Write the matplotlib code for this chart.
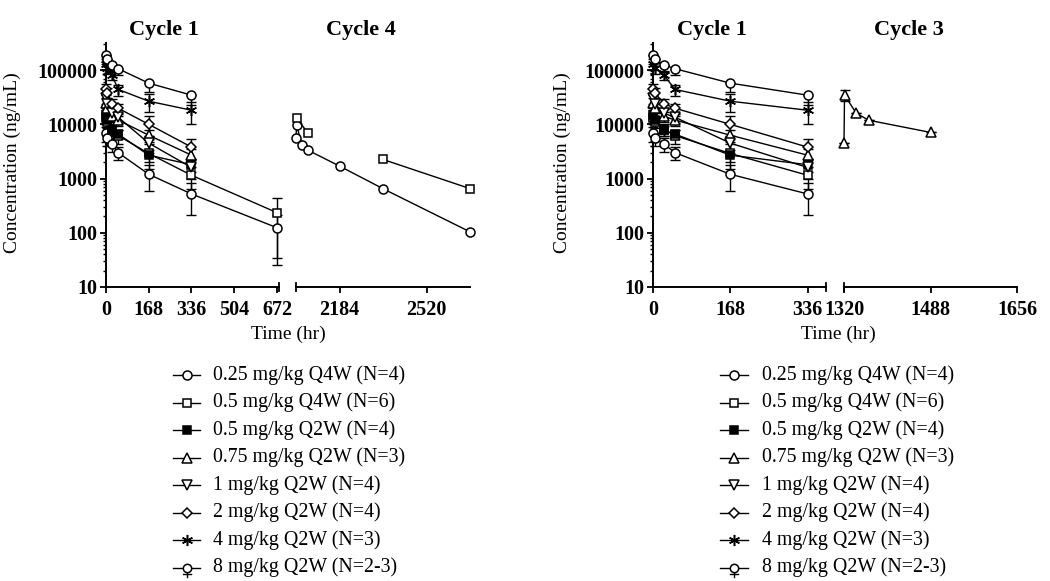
import numpy as np
import matplotlib
matplotlib.use('Agg')
import matplotlib.pyplot as plt
from matplotlib.lines import Line2D
from matplotlib.ticker import LogLocator, FixedLocator, FixedFormatter, NullFormatter

plt.rcParams['font.family'] = ['Liberation Serif', 'DejaVu Serif']

# ---------------- data ----------------
series_labels = ["0.25 mg/kg Q4W (N=4)", "0.5 mg/kg Q4W (N=6)", "0.5 mg/kg Q2W (N=4)",
                 "0.75 mg/kg Q2W (N=3)", "1 mg/kg Q2W (N=4)", "2 mg/kg Q2W (N=4)",
                 "4 mg/kg Q2W (N=3)", "8 mg/kg Q2W (N=2-3)"]

times_c1 = [0.5, 4, 24, 48, 168, 336, 672]

conc_025_q4w = [6800, 5500, 4300, 3000, 1200, 520, 124]
sd_025_q4w = [2000, 1500, 1200, 800, 600, 310, 90]
conc_05_q4w = [13000, 11000, 8000, 6200, 2900, 1150, 235]
sd_05_q4w = [3000, 2500, 2000, 1800, 1400, 500, 210]
conc_05_q2w = [15000, 12000, 7700, 6600, 2700, 1800]
sd_05_q2w = [3000, 2000, 1500, 1200, 700, 500]
conc_075_q2w = [25000, 20000, 14000, 12000, 6300, 2700]
sd_075_q2w = [5000, 4000, 3000, 2500, 1500, 800]
conc_1_q2w = [30000, 24000, 16000, 13500, 4500, 1600]
sd_1_q2w = [6000, 5000, 3000, 3000, 1500, 600]
conc_2_q2w = [45000, 38000, 24000, 19800, 10000, 3800]
sd_2_q2w = [10000, 8000, 5000, 4000, 4000, 1500]
conc_4_q2w = [130000, 110000, 80000, 44000, 26700, 18200]
sd_4_q2w = [30000, 25000, 15000, 10000, 10000, 8000]
conc_8_q2w = [190000, 160000, 124000, 106000, 57500, 34500]
sd_8_q2w = [60000, 40000, 30000, 25000, 18000, 12000]

# Cycle 4 (Q4W cohorts)
times_c4_025 = [2016, 2018, 2040, 2064, 2184, 2352, 2688]
conc_c4_025 = [5500, 9600, 4100, 3300, 1700, 650, 104]
times_c4_05 = [2018, 2064, 2184, 2352, 2688]
conc_c4_05 = [12900, 6800, np.nan, 2250, 653]

# Cycle 3 (0.75 mg/kg Q2W)
times_c3 = [1320, 1321, 1344, 1368, 1488]
conc_c3 = [4450, 34400, 16000, 11900, 7100]
sd_c3 = [0, 8000, 0, 0, 0]

# ---------------- styles ----------------
styles = [
    dict(marker='o', mfc='white', ms=6.5),
    dict(marker='s', mfc='white', ms=6.3),
    dict(marker='s', mfc='black', ms=6.0),
    dict(marker='^', mfc='white', ms=7.0),
    dict(marker='v', mfc='white', ms=7.0),
    dict(marker='D', mfc='white', ms=5.5),
    dict(marker=(6, 2, 0), mfc='black', ms=8.0),
    dict(marker='o', mfc='white', ms=6.5),
]
lower_only = [False] * 7 + [True]

c1_conc = [conc_025_q4w, conc_05_q4w, conc_05_q2w, conc_075_q2w, conc_1_q2w,
           conc_2_q2w, conc_4_q2w, conc_8_q2w]
c1_sd = [sd_025_q4w, sd_05_q4w, sd_05_q2w, sd_075_q2w, sd_1_q2w,
         sd_2_q2w, sd_4_q2w, sd_8_q2w]

W, H = 1050, 581
fig = plt.figure(figsize=(W / 100, H / 100), dpi=100)


def fx(px):
    return px / W


def fy(py):
    return 1 - py / H


AX_TOP, AX_BOT = 43, 287


def make_ax(x0, x1):
    return fig.add_axes([fx(x0), fy(AX_BOT), fx(x1 - x0), (AX_BOT - AX_TOP) / H])


def style_ax(ax, has_y):
    ax.set_yscale('log')
    ax.set_ylim(10, 10 ** 5.5)
    for s in ['top', 'right']:
        ax.spines[s].set_visible(False)
    ax.spines['bottom'].set_linewidth(1.4)
    ax.spines['left'].set_linewidth(1.4)
    ax.tick_params(axis='x', direction='out', length=4.5, width=1.3, labelsize=14.5, pad=5)
    if has_y:
        ax.yaxis.set_major_locator(FixedLocator([10, 100, 1000, 10000, 100000]))
        ax.yaxis.set_major_formatter(FixedFormatter(['10', '100', '1000', '10000', '100000']))
        ax.yaxis.set_minor_locator(LogLocator(base=10, subs=np.arange(2, 10)))
        ax.yaxis.set_minor_formatter(NullFormatter())
        ax.tick_params(axis='y', which='major', direction='out', length=4.5, width=1.3,
                       labelsize=14.5, pad=2)
        ax.tick_params(axis='y', which='minor', direction='out', length=2.5, width=1.0)
    else:
        ax.spines['left'].set_visible(False)
        ax.tick_params(axis='y', which='both', left=False, labelleft=False)
    for lab in ax.get_xticklabels() + ax.get_yticklabels():
        lab.set_fontweight('bold')


def break_mark(ax, xpos):
    ax.plot([xpos, xpos], [-0.018, 0.018], transform=ax.transAxes, color='black',
            lw=1.3, clip_on=False, zorder=5)


def draw_series(ax, t, c, sd, st, lo, tmax):
    t = np.asarray(t, float)
    c = np.asarray(c, float)
    sd = np.asarray(sd, float)
    n = len(c)
    t = t[:n]
    m = t <= tmax
    t, c, sd = t[m], c[m], sd[m]
    upper = np.zeros_like(sd) if lo else sd
    ax.errorbar(t, c, yerr=[sd, upper], fmt='none', ecolor='black', elinewidth=1.0,
                capsize=3.5, capthick=1.0, zorder=2, clip_on=False)
    ax.plot(t, c, color='black', lw=1.0, marker=st['marker'], mfc=st['mfc'], mec='black',
            ms=st['ms'], mew=1.1, zorder=3, clip_on=False)


def draw_cycle1(ax, tmax):
    for conc, sd, st, lo in zip(c1_conc, c1_sd, styles, lower_only):
        draw_series(ax, times_c1, conc, sd, st, lo, tmax)


# ---------------- left panel ----------------
axL1 = make_ax(106, 279)
axL1.set_xlim(0, 680)
axL1.set_xticks([0, 168, 336, 504, 672])
draw_cycle1(axL1, 680)
style_ax(axL1, True)
break_mark(axL1, 1)

axL2 = make_ax(296, 470)
axL2.set_xlim(2016, 2688)
axL2.set_xticks([2184, 2520])
axL2.plot(times_c4_025, conc_c4_025, color='black', lw=1.0, marker='o', mfc='white',
          mec='black', ms=6.5, mew=1.1, clip_on=False, zorder=3)
axL2.plot(times_c4_05, conc_c4_05, color='black', lw=1.0, marker='s', mfc='white',
          mec='black', ms=6.3, mew=1.1, clip_on=False, zorder=4)
style_ax(axL2, False)
break_mark(axL2, 0)

# ---------------- right panel ----------------
axR1 = make_ax(653, 826)
axR1.set_xlim(0, 376)
axR1.set_xticks([0, 168, 336])
draw_cycle1(axR1, 376)
style_ax(axR1, True)
break_mark(axR1, 1)

axR2 = make_ax(844, 1017)
axR2.set_xlim(1320, 1656)
axR2.set_xticks([1320, 1488, 1656])
draw_series(axR2, times_c3, conc_c3, sd_c3, styles[3], False, 1656)
style_ax(axR2, False)
break_mark(axR2, 0)

# ---------------- texts ----------------
for xc, txt in [(164, 'Cycle 1'), (361, 'Cycle 4'), (712, 'Cycle 1'), (909, 'Cycle 3')]:
    fig.text(fx(xc), fy(30), txt, ha='center', va='center', fontsize=16, fontweight='bold')

for xc in [12, 562]:
    fig.text(fx(xc), fy(163), 'Concentration (ng/mL)', rotation=90, ha='center',
             va='center', fontsize=14)

for xc in [288, 838]:
    fig.text(fx(xc), fy(334), 'Time (hr)', ha='center', va='center', fontsize=14)

# ---------------- legends ----------------
def draw_legend(x0, x1, xtext):
    xm = (x0 + x1) / 2
    for i, (lab, st) in enumerate(zip(series_labels, styles)):
        yrow = 375 + 27.5 * i
        fig.add_artist(Line2D([fx(x0), fx(x1)], [fy(yrow), fy(yrow)], color='black', lw=1.0,
                              transform=fig.transFigure))
        ms = st['ms']
        if lower_only[i]:
            fig.add_artist(Line2D([fx(xm), fx(xm)], [fy(yrow), fy(yrow + 9)], color='black',
                                  lw=1.0, transform=fig.transFigure))
            fig.add_artist(Line2D([fx(xm - 4), fx(xm + 4)], [fy(yrow + 6.5), fy(yrow + 6.5)],
                                  color='black', lw=1.0, transform=fig.transFigure))
            ms = 6.0
        fig.add_artist(Line2D([fx(xm)], [fy(yrow)], marker=st['marker'], mfc=st['mfc'],
                              mec='black', ms=ms, mew=1.1, transform=fig.transFigure))
        fig.text(fx(xtext), fy(yrow), lab, ha='left', va='center', fontsize=14.3)


draw_legend(173, 200, 213)
draw_legend(720, 748, 762)

fig.savefig('out.png', dpi=100, facecolor='white')
